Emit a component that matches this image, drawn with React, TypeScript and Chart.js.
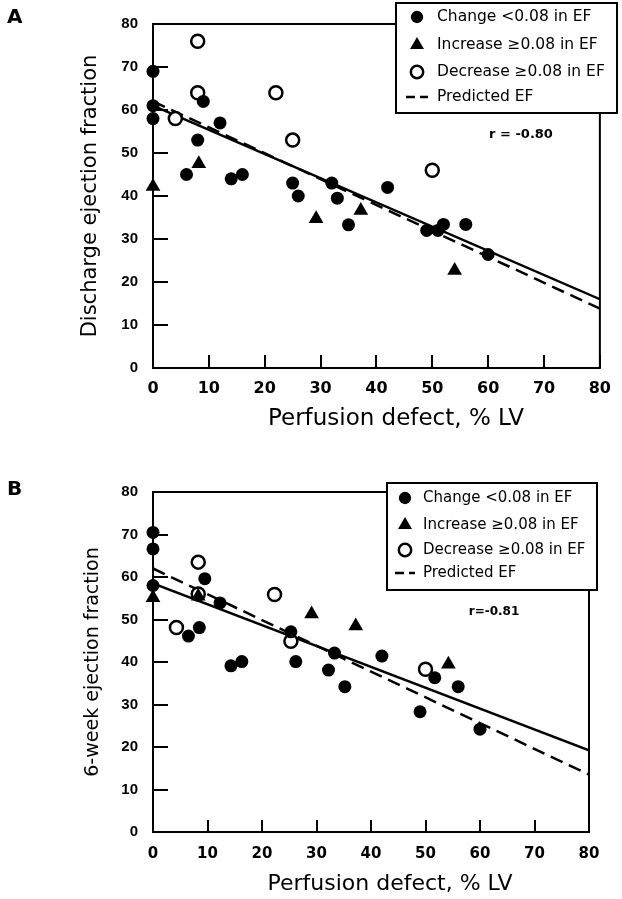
import React, { useEffect, useRef } from "react";
import { Chart, registerables } from "chart.js";

Chart.register(...registerables);

// ---------- shared ----------
const axisMin = 0;
const axisMax = 80;
const tickStep = 10;
const xTitleText = "Perfusion defect, % LV";
const legendLabels = [
  "Change <0.08 in EF",
  "Increase \u22650.08 in EF",
  "Decrease \u22650.08 in EF",
  "Predicted EF",
];

// ---------- Panel A (discharge) ----------
const aChangeX = [0, 0, 0, 9, 12, 8, 6, 14, 16, 25, 26, 32, 33, 35, 42, 49, 51, 52, 56, 60];
const aChangeY = [69, 61, 58, 62, 57, 53, 45, 44, 45, 43, 40, 43, 39.5, 33.3, 42, 32, 32, 33.4, 33.4, 26.4];
const aIncreaseX = [0, 8.2, 29.2, 37.2, 54];
const aIncreaseY = [42.2, 47.5, 34.7, 36.6, 22.7];
const aDecreaseX = [8, 8, 4, 22, 25, 50];
const aDecreaseY = [76, 64, 58, 64, 53, 46];
const aFitX = [0, 80];
const aFitY = [61, 16];
const aPredX = [0, 80];
const aPredY = [62, 13.8];
const aR = "r = -0.80";
const aYTitle = "Discharge ejection fraction";

// ---------- Panel B (6-week) ----------
const bChangeX = [0, 0, 0, 9.5, 12.3, 8.5, 6.5, 14.3, 16.3, 25.3, 26.2, 32.2, 33.3, 35.2, 42, 49, 51.7, 56, 60];
const bChangeY = [70.5, 66.6, 58, 59.6, 53.9, 48.1, 46.1, 39.1, 40.1, 47.1, 40.1, 38.1, 42.1, 34.2, 41.4, 28.3, 36.3, 34.2, 24.2];
const bIncreaseX = [0, 8.3, 29.1, 37.2, 54.2];
const bIncreaseY = [55.1, 55.5, 51.3, 48.5, 39.5];
const bDecreaseX = [8.3, 8.3, 4.3, 22.3, 25.3, 50];
const bDecreaseY = [63.5, 56, 48.1, 55.9, 44.9, 38.3];
const bFitX = [0, 80];
const bFitY = [58.5, 19.2];
const bPredX = [0, 80];
const bPredY = [62, 13.5];
const bR = "r=-0.81";
const bYTitle = "6-week ejection fraction";

const pts = (xs: number[], ys: number[]) => xs.map((x, i) => ({ x, y: ys[i] }));

const DV = "'DejaVu Sans', sans-serif";
const LS = "'Liberation Sans', Arial, sans-serif";

function drawMarker(ctx: CanvasRenderingContext2D, ds: any, x: number, y: number, scale: number) {
  const r = ds.pointRadius * scale;
  ctx.save();
  ctx.lineWidth = ds.pointBorderWidth || 1;
  ctx.strokeStyle = "#000";
  ctx.fillStyle = ds.pointBackgroundColor;
  ctx.beginPath();
  if (ds.pointStyle === "triangle") {
    ctx.moveTo(x, y - r);
    ctx.lineTo(x + r * Math.sin((2 * Math.PI) / 3), y - r * Math.cos((2 * Math.PI) / 3));
    ctx.lineTo(x + r * Math.sin((4 * Math.PI) / 3), y - r * Math.cos((4 * Math.PI) / 3));
    ctx.closePath();
  } else {
    ctx.arc(x, y, r, 0, Math.PI * 2);
  }
  ctx.fill();
  if (ds.pointBorderWidth) ctx.stroke();
  ctx.restore();
}

const deco = {
  id: "deco",
  beforeDatasetsDraw(chart: any, _args: any, o: any) {
    const { ctx, chartArea: a, scales } = chart;
    ctx.save();
    ctx.strokeStyle = "#000";
    ctx.lineWidth = 2;
    ctx.strokeRect(a.left, a.top, a.right - a.left, a.bottom - a.top);
    ctx.beginPath();
    scales.y.ticks.forEach((t: any) => {
      const p = Math.round(scales.y.getPixelForValue(t.value));
      ctx.moveTo(a.left, p);
      ctx.lineTo(a.left + o.yTickLen, p);
    });
    scales.x.ticks.forEach((t: any) => {
      const p = Math.round(scales.x.getPixelForValue(t.value));
      ctx.moveTo(p, a.bottom);
      ctx.lineTo(p, a.bottom - o.xTickLen);
    });
    ctx.stroke();
    // x-axis title
    ctx.fillStyle = "#000";
    ctx.font = `${o.xTitle.size}px ${DV}`;
    ctx.textAlign = "center";
    ctx.textBaseline = "middle";
    ctx.fillText(o.xTitle.text, o.xTitle.x, o.xTitle.y);
    // panel letter
    ctx.font = `bold ${o.letter.size}px ${DV}`;
    ctx.textAlign = "left";
    ctx.textBaseline = "alphabetic";
    ctx.fillText(o.letter.text, o.letter.x, o.letter.y);
    // r value
    ctx.font = `bold ${o.r.size}px ${DV}`;
    ctx.textAlign = "center";
    ctx.textBaseline = "middle";
    ctx.fillText(o.r.text, o.r.x, o.r.y);
    ctx.restore();
  },
  afterDatasetsDraw(chart: any, _args: any, o: any) {
    const { ctx } = chart;
    const L = o.legend;
    ctx.save();
    ctx.fillStyle = "#fff";
    ctx.fillRect(L.x, L.y, L.w, L.h);
    ctx.strokeStyle = "#000";
    ctx.lineWidth = 2;
    ctx.strokeRect(L.x, L.y, L.w, L.h);
    const items = chart.data.datasets.filter((d: any) => d.inLegend);
    items.forEach((ds: any, i: number) => {
      const y = L.rows[i];
      if (ds.showLine) {
        ctx.save();
        ctx.strokeStyle = "#000";
        ctx.lineWidth = ds.borderWidth;
        ctx.setLineDash([9, 5]);
        ctx.beginPath();
        ctx.moveTo(L.dash[0], y);
        ctx.lineTo(L.dash[1], y);
        ctx.stroke();
        ctx.restore();
      } else {
        drawMarker(ctx, ds, L.markerX, y, 0.95);
      }
      ctx.fillStyle = "#000";
      ctx.font = `${L.size}px ${DV}`;
      ctx.textAlign = "left";
      ctx.textBaseline = "middle";
      ctx.fillText(ds.label, L.textX, y);
    });
    ctx.restore();
  },
};

function makeConfig(p: any) {
  const tickVals: number[] = [];
  for (let v = axisMin; v <= axisMax; v += tickStep) tickVals.push(v);
  const datasets: any[] = [
    {
      label: legendLabels[0],
      inLegend: true,
      data: pts(p.changeX, p.changeY),
      pointStyle: "circle",
      pointRadius: 6.5,
      pointBackgroundColor: "#000",
      backgroundColor: "#000",
      pointBorderWidth: 0,
      borderColor: "#000",
      clip: false,
      order: 1,
    },
    {
      label: legendLabels[1],
      inLegend: true,
      data: pts(p.incX, p.incY),
      pointStyle: "triangle",
      pointRadius: 8.5,
      pointBackgroundColor: "#000",
      backgroundColor: "#000",
      pointBorderWidth: 0,
      borderColor: "#000",
      clip: false,
      order: 1,
    },
    {
      label: legendLabels[2],
      inLegend: true,
      data: pts(p.decX, p.decY),
      pointStyle: "circle",
      pointRadius: 6.5,
      pointBackgroundColor: "#fff",
      backgroundColor: "#fff",
      pointBorderColor: "#000",
      borderColor: "#000",
      pointBorderWidth: 2.5,
      clip: false,
      order: 2,
    },
    {
      label: legendLabels[3],
      inLegend: true,
      data: pts(p.predX, p.predY),
      showLine: true,
      borderColor: "#000",
      borderWidth: 2.5,
      borderDash: [13, 7],
      pointRadius: 0,
      order: 3,
    },
    {
      label: "Regression",
      inLegend: false,
      data: pts(p.fitX, p.fitY),
      showLine: true,
      borderColor: "#000",
      borderWidth: 2.5,
      pointRadius: 0,
      order: 3,
    },
  ];
  return {
    type: "scatter",
    data: { datasets },
    plugins: [deco],
    options: {
      responsive: false,
      animation: false,
      events: [],
      layout: { padding: p.padding },
      plugins: {
        legend: { display: false },
        tooltip: { enabled: false },
        deco: p.deco,
      },
      scales: {
        x: {
          type: "linear",
          min: axisMin,
          max: axisMax,
          grid: { display: false, drawTicks: false },
          border: { display: false },
          ticks: {
            stepSize: tickStep,
            color: "#000",
            padding: p.xTickPad,
            font: { family: DV, weight: "bold", size: p.xTickSize },
          },
          afterFit: (s: any) => {
            s.height = p.xAxisH;
          },
        },
        y: {
          type: "linear",
          min: axisMin,
          max: axisMax,
          grid: { display: false, drawTicks: false },
          border: { display: false },
          ticks: {
            stepSize: tickStep,
            color: "#000",
            padding: 15,
            font: { family: LS, weight: "bold", size: 15 },
          },
          title: {
            display: true,
            text: p.yTitle,
            color: "#000",
            font: { family: DV, size: p.yTitleSize, weight: "normal" },
            padding: { top: p.yTitlePad, bottom: 0 },
          },
          afterFit: (s: any) => {
            s.width = 153;
          },
        },
      },
    },
  };
}

const panelA = {
  changeX: aChangeX, changeY: aChangeY,
  incX: aIncreaseX, incY: aIncreaseY,
  decX: aDecreaseX, decY: aDecreaseY,
  fitX: aFitX, fitY: aFitY,
  predX: aPredX, predY: aPredY,
  padding: { left: 0, top: 11, right: 14, bottom: 0 },
  xAxisH: 72,
  xTickPad: 11,
  xTickSize: 16,
  yTitle: aYTitle,
  yTitleSize: 21,
  yTitlePad: 78,
  deco: {
    yTickLen: 15,
    xTickLen: 13,
    xTitle: { text: xTitleText, size: 23, x: 396, y: 419 },
    letter: { text: "A", size: 20, x: 7, y: 23 },
    r: { text: aR, size: 13, x: 521, y: 135 },
    legend: { x: 396, y: 3, w: 221, h: 110, rows: [17, 45, 72, 97], markerX: 417, dash: [406, 428], textX: 437, size: 15.5 },
  },
};

const panelB = {
  changeX: bChangeX, changeY: bChangeY,
  incX: bIncreaseX, incY: bIncreaseY,
  decX: bDecreaseX, decY: bDecreaseY,
  fitX: bFitX, fitY: bFitY,
  predX: bPredX, predY: bPredY,
  padding: { left: 0, top: 42, right: 33, bottom: 0 },
  xAxisH: 67,
  xTickPad: 13,
  xTickSize: 15,
  yTitle: bYTitle,
  yTitleSize: 19,
  yTitlePad: 81.5,
  deco: {
    yTickLen: 15,
    xTickLen: 12,
    xTitle: { text: xTitleText, size: 22, x: 390, y: 434.5 },
    letter: { text: "B", size: 20, x: 7, y: 45 },
    r: { text: bR, size: 12, x: 494, y: 162 },
    legend: { x: 387, y: 33, w: 210, h: 107, rows: [48, 75, 100, 123], markerX: 405, dash: [395, 415], textX: 423, size: 15 },
  },
};

export default function App() {
  const refA = useRef<HTMLCanvasElement>(null);
  const refB = useRef<HTMLCanvasElement>(null);
  useEffect(() => {
    const cA = new Chart(refA.current as any, makeConfig(panelA) as any);
    const cB = new Chart(refB.current as any, makeConfig(panelB) as any);
    return () => {
      cA.destroy();
      cB.destroy();
    };
  }, []);
  return (
    <div style={{ position: "absolute", left: 0, top: 0, width: 622, height: 899, background: "#fff" }}>
      <canvas ref={refA} width={622} height={440} style={{ position: "absolute", left: 0, top: 0, width: 622, height: 440 }} />
      <canvas ref={refB} width={622} height={449} style={{ position: "absolute", left: 0, top: 450, width: 622, height: 449 }} />
    </div>
  );
}
